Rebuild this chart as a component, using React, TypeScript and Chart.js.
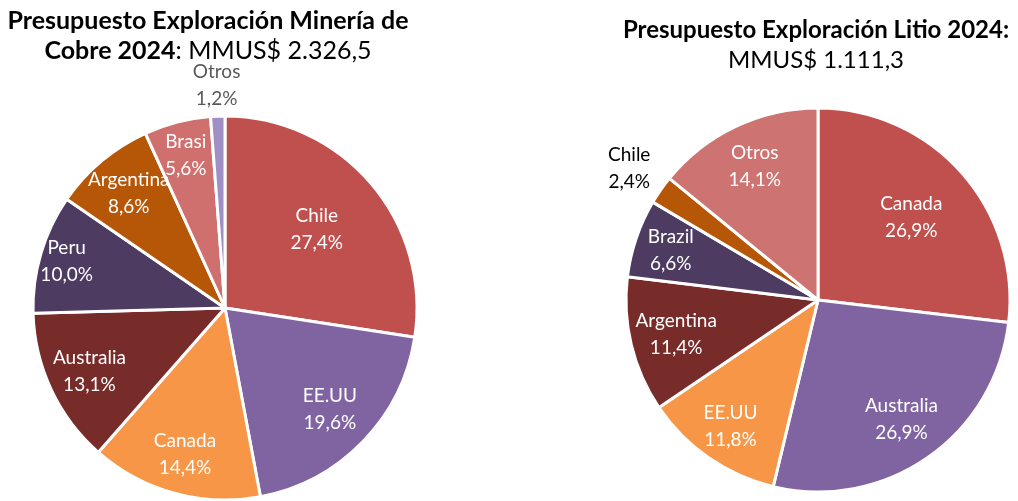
import React, { useEffect, useRef } from "react";
import { Chart, registerables } from "chart.js";

Chart.register(...registerables);

// Copper exploration budget 2024 (%)
const copperCountries = ["Chile", "EE.UU", "Canada", "Australia", "Peru", "Argentina", "Brasi", "Otros"];
const copperShares = [27.4, 19.6, 14.4, 13.1, 10.0, 8.6, 5.6, 1.2];
const copperColors = ["#C0504D", "#8064A2", "#F79646", "#772C2A", "#4D3B62", "#B65708", "#D0706E", "#9F8FC4"];

// Lithium exploration budget 2024 (%)
const lithiumCountries = ["Canada", "Australia", "EE.UU", "Argentina", "Brazil", "Chile", "Otros"];
const lithiumShares = [26.9, 26.9, 11.8, 11.4, 6.6, 2.4, 14.1];
const lithiumColors = ["#C0504D", "#8064A2", "#F79646", "#772C2A", "#4D3B62", "#B65708", "#CD7371"];

// label placement (fraction of radius) and label colours
const copperLabelRadius = [0.63, 0.76, 0.79, 0.78, 0.86, 0.78, 0.82, 1.16];
const copperLabelColors = ["#fff", "#fff", "#fff", "#fff", "#fff", "#fff", "#fff", "#595959"];
const lithiumLabelRadius = [0.65, 0.76, 0.8, 0.76, 0.81, 1.2, 0.77];
const lithiumLabelColors = ["#fff", "#fff", "#fff", "#fff", "#fff", "#000", "#fff"];

const FONT = "Lato, 'Open Sans', sans-serif";

const fmt = (v: number) => v.toFixed(1).replace(".", ",") + "%";

const labelPlugin = {
  id: "sliceLabels",
  afterDatasetsDraw(chart: any, _args: any, opts: any) {
    const { ctx } = chart;
    const meta = chart.getDatasetMeta(0);
    const labels = chart.data.labels as string[];
    const values = chart.data.datasets[0].data as number[];
    ctx.save();
    ctx.font = `19px ${FONT}`;
    ctx.textAlign = "center";
    ctx.textBaseline = "middle";
    const lh = 27;
    meta.data.forEach((arc: any, i: number) => {
      const p = arc.getProps(["startAngle", "endAngle", "x", "y", "outerRadius"], true);
      const mid = (p.startAngle + p.endAngle) / 2;
      const r = p.outerRadius * opts.radii[i];
      const px = p.x + Math.cos(mid) * r;
      const py = p.y + Math.sin(mid) * r;
      ctx.fillStyle = opts.colors[i];
      ctx.fillText(labels[i], px, py - lh / 2);
      ctx.fillText(fmt(values[i]), px, py + lh / 2);
    });
    ctx.restore();
  },
};

function PieChart(props: {
  labels: string[];
  values: number[];
  colors: string[];
  radii: number[];
  labelColors: string[];
  style: React.CSSProperties;
  width: number;
  height: number;
}) {
  const ref = useRef<HTMLCanvasElement>(null);
  useEffect(() => {
    if (!ref.current) return;
    const chart = new Chart(ref.current, {
      type: "pie",
      data: {
        labels: props.labels,
        datasets: [
          {
            data: props.values,
            backgroundColor: props.colors,
            borderColor: "#ffffff",
            borderWidth: 3,
          },
        ],
      },
      options: {
        responsive: false,
        animation: false,
        radius: 192,
        layout: { padding: 0 },
        plugins: {
          legend: { display: false },
          tooltip: { enabled: false },
          sliceLabels: { radii: props.radii, colors: props.labelColors },
        } as any,
      },
      plugins: [labelPlugin],
    });
    return () => chart.destroy();
  }, []);
  return (
    <canvas
      ref={ref}
      width={props.width}
      height={props.height}
      style={{ position: "absolute", width: props.width, height: props.height, ...props.style }}
    />
  );
}

export default function App() {
  const titleStyle: React.CSSProperties = {
    position: "absolute",
    fontFamily: FONT,
    fontSize: 24,
    lineHeight: "30px",
    color: "#000",
    textAlign: "center",
    whiteSpace: "nowrap",
  };
  return (
    <div
      style={{
        position: "absolute",
        left: 0,
        top: 0,
        width: 1018,
        height: 501,
        overflow: "hidden",
        background: "#fff",
      }}
    >
      <PieChart
        labels={copperCountries}
        values={copperShares}
        colors={copperColors}
        radii={copperLabelRadius}
        labelColors={copperLabelColors}
        width={450}
        height={496}
        style={{ left: 0, top: 60 }}
      />
      <PieChart
        labels={lithiumCountries}
        values={lithiumShares}
        colors={lithiumColors}
        radii={lithiumLabelRadius}
        labelColors={lithiumLabelColors}
        width={450}
        height={480}
        style={{ left: 593, top: 60 }}
      />
      <div style={{ ...titleStyle, fontSize: 25, left: 0, width: 416, top: 4 }}>
        <b>Presupuesto Exploración Minería de</b>
        <br />
        <b>Cobre 2024</b>: MMUS$ 2.326,5
      </div>
      <div style={{ ...titleStyle, left: 614, width: 404, top: 14 }}>
        <b>Presupuesto Exploración Litio 2024:</b>
        <br />
        MMUS$ 1.111,3
      </div>
    </div>
  );
}
